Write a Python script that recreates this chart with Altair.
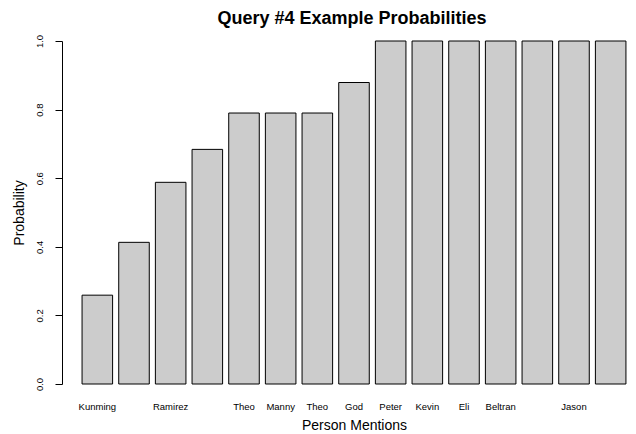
import json
import altair as alt
import pandas as pd

# Data
labels = ["Kunming", "", "Ramirez", "", "Theo", "Manny", "Theo", "God",
          "Peter", "Kevin", "Eli", "Beltran", "", "Jason", ""]
probs = [0.259, 0.413, 0.588, 0.684, 0.790, 0.790, 0.790, 0.879,
         1.0, 1.0, 1.0, 1.0, 1.0, 1.0, 1.0]
y_ticks = [0.0, 0.2, 0.4, 0.6, 0.8, 1.0]

df = pd.DataFrame({"idx": list(range(len(probs))), "prob": probs})

FONT = "Liberation Sans"
label_expr = json.dumps(labels) + "[datum.value]"

chart = (
    alt.Chart(df)
    .mark_bar(fill="#cccccc", stroke="black", strokeWidth=1)
    .encode(
        x=alt.X(
            "idx:O",
            sort=None,
            scale=alt.Scale(paddingInner=0.1667, paddingOuter=0.056),
            axis=alt.Axis(
                title="Person Mentions",
                labelExpr=label_expr,
                labelAngle=0,
                domain=False,
                ticks=False,
                labelFontSize=9.5,
                labelFont=FONT,
                labelColor="black",
                labelPadding=17,
                labelBaseline="top",
                titleFont=FONT,
                titleFontSize=14,
                titleFontWeight="normal",
                titleColor="black",
                titlePadding=8,
            ),
        ),
        y=alt.Y(
            "prob:Q",
            scale=alt.Scale(domain=[0, 1], nice=False, zero=True),
            axis=alt.Axis(
                title="Probability",
                values=y_ticks,
                format=".1f",
                grid=False,
                offset=18,
                domainColor="black",
                domainWidth=1,
                tickColor="black",
                tickSize=7,
                tickWidth=1,
                labelAngle=270,
                labelAlign="center",
                labelBaseline="bottom",
                labelPadding=11,
                labelFontSize=9.5,
                labelFont=FONT,
                labelColor="black",
                titleFont=FONT,
                titleFontSize=14,
                titleFontWeight="normal",
                titleColor="black",
                titlePadding=8,
            ),
        ),
    )
    .properties(
        width=548,
        height=343,
        background="white",
        title=alt.TitleParams(
            "Query #4 Example Probabilities",
            font=FONT,
            fontSize=18,
            fontWeight="bold",
            color="black",
            anchor="middle",
            baseline="bottom",
            offset=-12,
            dx=-2,
        ),
        autosize=alt.AutoSizeParams(type="none"),
        padding={"left": 72, "top": 33, "right": 0, "bottom": 48},
    )
    .configure_view(strokeWidth=0, stroke=None)
)

chart.save("out.html", embed_options={"renderer": "svg", "actions": False})
